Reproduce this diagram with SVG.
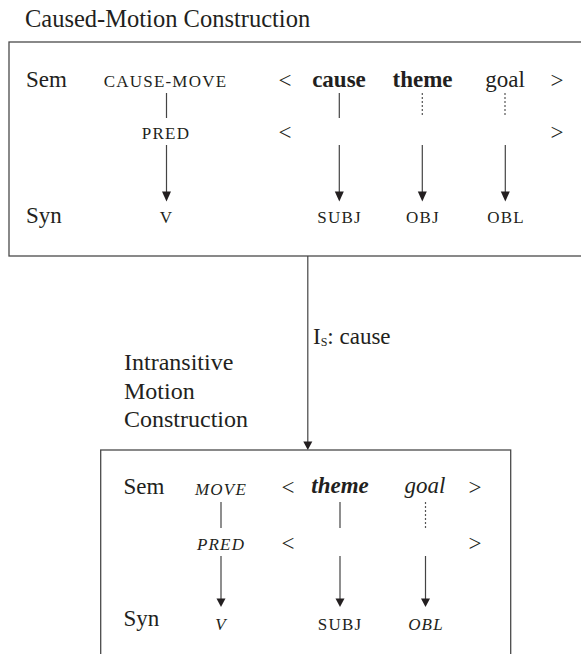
<svg xmlns="http://www.w3.org/2000/svg" width="581" height="654" viewBox="0 0 581 654">
<defs>
<style>
text{font-family:"Liberation Serif","Times New Roman",serif;fill:#231f20;}
.t{font-size:23px;}
.title{font-size:24.5px;}
.side{font-size:24px;}
.sc{font-size:17px;letter-spacing:1.2px;}
.m{text-anchor:middle;}
.b{font-weight:bold;}
.i{font-style:italic;}
.box{fill:none;stroke:#4a4a4a;stroke-width:1.3;}
.ln{stroke:#444;stroke-width:1.2;fill:none;}
.dl{stroke:#555;stroke-width:1.2;fill:none;stroke-dasharray:2,2;}
.ah{fill:#231f20;}
</style>
</defs>
<rect width="581" height="654" fill="#fff"/>

<text class="title" x="25" y="27">Caused-Motion Construction</text>

<g id="caused-motion">
<rect class="box" x="9" y="42" width="580" height="214"/>
<text class="t" x="26" y="87">Sem</text>
<text class="sc m" x="165.5" y="87">CAUSE-MOVE</text>
<text class="t m" x="285" y="88">&lt;</text>
<text class="t m b" x="339" y="87">cause</text>
<text class="t m b" x="422.5" y="87">theme</text>
<text class="t m" x="505" y="87">goal</text>
<text class="t m" x="557" y="88">&gt;</text>
<text class="sc m" x="166" y="139">PRED</text>
<text class="t m" x="285" y="140">&lt;</text>
<text class="t m" x="557" y="140">&gt;</text>
<text class="t" x="26" y="223">Syn</text>
<text class="sc m" x="166.5" y="223">V</text>
<text class="sc m" x="339.5" y="223">SUBJ</text>
<text class="sc m" x="423" y="223">OBJ</text>
<text class="sc m" x="506" y="223">OBL</text>
<line class="ln" x1="166.5" y1="93" x2="166.5" y2="118"/>
<line class="ln" x1="339.3" y1="93" x2="339.3" y2="118"/>
<line class="dl" x1="422.3" y1="93" x2="422.3" y2="117"/>
<line class="dl" x1="505" y1="93" x2="505" y2="117"/>
<line class="ln" x1="166.5" y1="145" x2="166.5" y2="193"/>
<polygon class="ah" points="162,191.5 171,191.5 166.5,201.5"/>
<line class="ln" x1="339.3" y1="145" x2="339.3" y2="193"/>
<polygon class="ah" points="334.8,191.5 343.8,191.5 339.3,201.5"/>
<line class="ln" x1="422.3" y1="145" x2="422.3" y2="193"/>
<polygon class="ah" points="417.8,191.5 426.8,191.5 422.3,201.5"/>
<line class="ln" x1="505.3" y1="145" x2="505.3" y2="193"/>
<polygon class="ah" points="500.8,191.5 509.8,191.5 505.3,201.5"/>
</g>

<g id="connectors">
<line class="ln" x1="307.8" y1="256" x2="307.8" y2="443"/>
<polygon class="ah" points="303.3,441.5 312.3,441.5 307.8,450"/>
<text class="t" x="313" y="344">I<tspan font-size="12" dy="2">S</tspan><tspan dy="-2">: cause</tspan></text>
</g>

<g id="intransitive-label">
<text class="side" x="124" y="370">Intransitive</text>
<text class="side" x="124" y="398.5">Motion</text>
<text class="side" x="124" y="427">Construction</text>
</g>

<g id="intransitive-motion">
<rect class="box" x="100.7" y="450" width="410" height="215"/>
<text class="t" x="123.5" y="493.5">Sem</text>
<text class="sc m i" x="221" y="494.5">MOVE</text>
<text class="t m" x="288" y="495">&lt;</text>
<text class="t m b i" x="340" y="493">theme</text>
<text class="t m i" x="425" y="493">goal</text>
<text class="t m" x="475" y="495">&gt;</text>
<text class="sc m i" x="221" y="550">PRED</text>
<text class="t m" x="288" y="551">&lt;</text>
<text class="t m" x="475" y="551">&gt;</text>
<text class="t" x="123.5" y="626">Syn</text>
<text class="sc m i" x="221" y="630">V</text>
<text class="sc m" x="340" y="630">SUBJ</text>
<text class="sc m i" x="426" y="630">OBL</text>
<line class="ln" x1="221" y1="502" x2="221" y2="528"/>
<line class="ln" x1="340" y1="502" x2="340" y2="528"/>
<line class="dl" x1="425.5" y1="502" x2="425.5" y2="528"/>
<line class="ln" x1="221" y1="556" x2="221" y2="600"/>
<polygon class="ah" points="216.5,598.5 225.5,598.5 221,607"/>
<line class="ln" x1="340" y1="556" x2="340" y2="600"/>
<polygon class="ah" points="335.5,598.5 344.5,598.5 340,607"/>
<line class="ln" x1="425.5" y1="556" x2="425.5" y2="600"/>
<polygon class="ah" points="421,598.5 430,598.5 425.5,607"/>
</g>
</svg>
